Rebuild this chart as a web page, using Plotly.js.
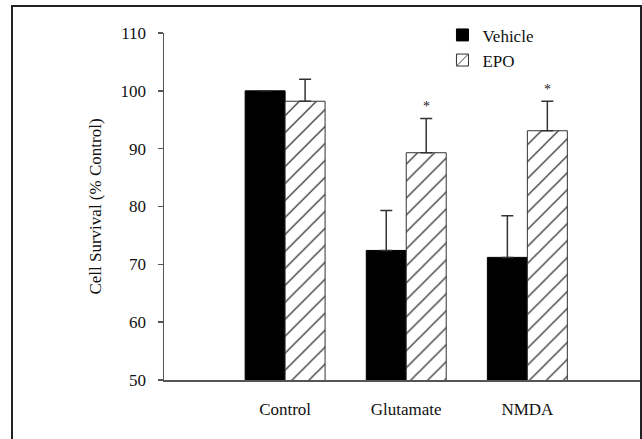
<!DOCTYPE html>
<html>
<head>
<meta charset="utf-8">
<script src="https://cdn.plot.ly/plotly-3.0.1.min.js"></script>
<style>
  html, body { margin: 0; padding: 0; background: #fff; }
  #wrap { position: relative; width: 642px; height: 439px; overflow: hidden; }
  #chart { width: 642px; height: 439px; }
  #frame { position: absolute; left: 11px; top: 5px; width: 627px; height: 460px;
           border-left: 2px solid #222; border-top: 2px solid #222; border-right: 2px solid #222;
           pointer-events: none; }
</style>
</head>
<body>
<div id="wrap"><div id="chart"></div><div id="frame"></div></div>
<script>
// Data
const categories = ["Control", "Glutamate", "NMDA"];
const vehicleValues = [100, 72.4, 71.2];
const vehicleErrors = [0, 6.9, 7.2];
const epoValues = [98.2, 89.3, 93.1];
const epoErrors = [3.8, 5.9, 5.1];
const asteriskY = [null, 97.3, 100.3];
const yTicks = [50, 60, 70, 80, 90, 100, 110];

const FONT = "Liberation Serif";
const INK = "#111";
const bargap = 0.34;

const vehicle = {
  type: "bar", name: "Vehicle", x: categories, y: vehicleValues,
  marker: { color: "#000", line: { color: "#000", width: 1 } },
  error_y: { type: "data", symmetric: false, array: vehicleErrors,
             arrayminus: vehicleErrors.map(() => 0),
             color: "#333", thickness: 1.5, width: 6 }
};
const epo = {
  type: "bar", name: "EPO", x: categories, y: epoValues,
  marker: { color: "#fff", line: { color: "#333", width: 1 },
            pattern: { shape: "/", fgcolor: "#111", bgcolor: "#fff", size: 12, solidity: 0.1 } },
  error_y: { type: "data", symmetric: false, array: epoErrors,
             arrayminus: epoErrors.map(() => 0),
             color: "#333", thickness: 1.5, width: 6 }
};

// asterisks above EPO bars (offset of the second bar in each group)
const epoOffset = (1 - bargap) / 4;
const annotations = [];
asteriskY.forEach((yv, i) => {
  if (yv !== null) {
    annotations.push({ x: i + epoOffset, y: yv, xref: "x", yref: "y", text: "*",
      showarrow: false, font: { family: FONT, size: 14, color: "#222" } });
  }
});

const layout = {
  width: 642, height: 439,
  margin: { l: 164, r: 2, t: 33, b: 59 },
  paper_bgcolor: "#fff", plot_bgcolor: "#fff",
  barmode: "group", bargap: bargap, bargroupgap: 0,
  font: { family: FONT, size: 15, color: INK },
  showlegend: true,
  legend: { x: 0.585, y: 1.045, xanchor: "left", yanchor: "top",
            font: { family: FONT, size: 17, color: INK },
            bgcolor: "rgba(0,0,0,0)", tracegroupgap: 0 },
  xaxis: {
    type: "category", range: [-1, 2.93], showline: true, linecolor: "#555", linewidth: 1.5,
    ticks: "", showgrid: false, zeroline: false, ticklabelstandoff: 13,
    tickfont: { family: FONT, size: 17, color: INK }, fixedrange: true
  },
  yaxis: {
    range: [50, 110], tickvals: yTicks, ticktext: yTicks.map(String),
    showline: true, linecolor: "#555", linewidth: 1.5,
    ticks: "outside", ticklen: 5, tickcolor: "#555", tickwidth: 1.5,
    showgrid: false, zeroline: false, ticklabelstandoff: 8,
    tickfont: { family: FONT, size: 17, color: INK },
    title: { text: "Cell Survival (% Control)", font: { family: FONT, size: 17, color: INK }, standoff: 14 },
    fixedrange: true
  },
  annotations: annotations
};

Plotly.newPlot("chart", [vehicle, epo], layout, { displayModeBar: false, staticPlot: true });
</script>
</body>
</html>
